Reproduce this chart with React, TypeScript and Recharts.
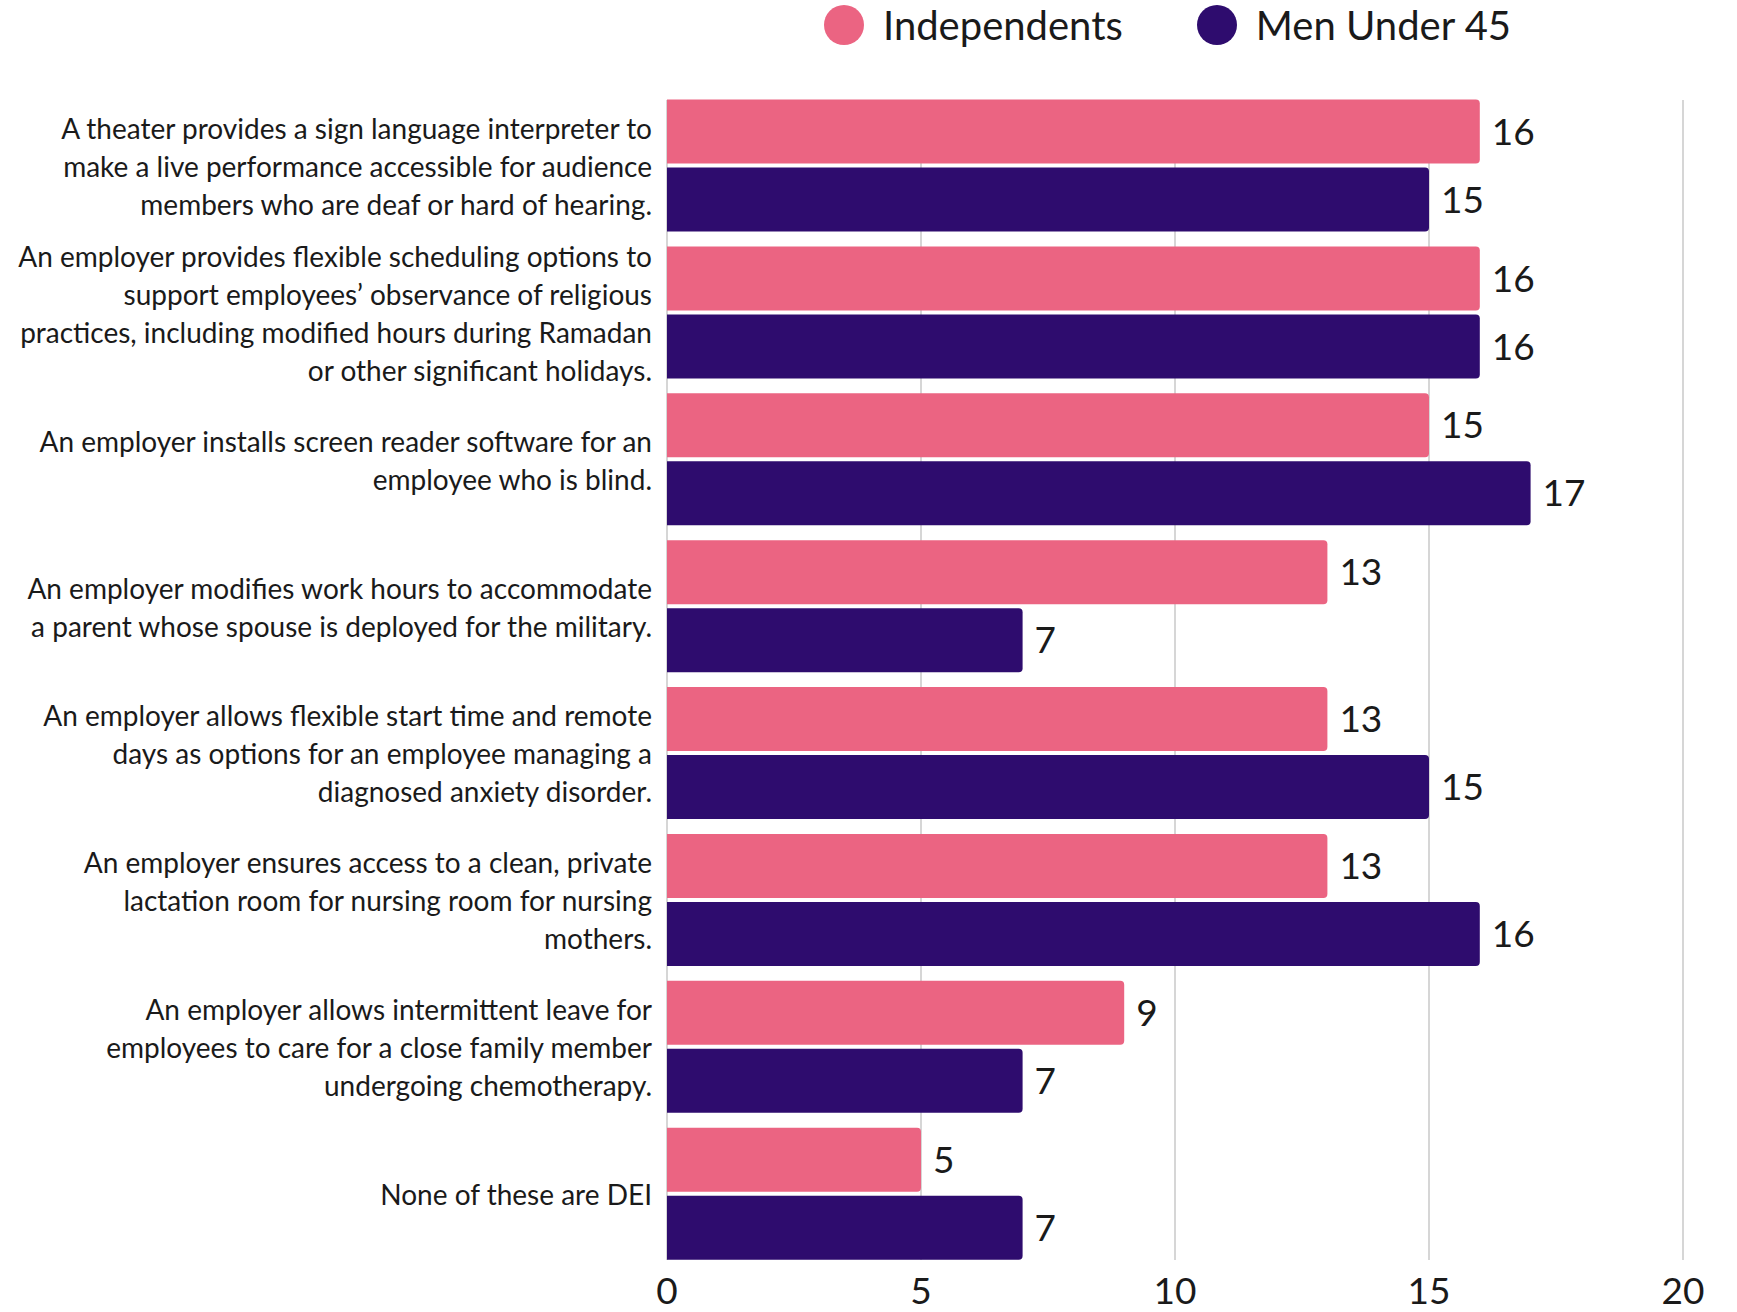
import React from 'react';
import { BarChart, Bar, XAxis, YAxis, CartesianGrid, LabelList } from 'recharts';

const categories = [
  'A theater provides a sign language interpreter to\nmake a live performance accessible for audience\nmembers who are deaf or hard of hearing.',
  'An employer provides flexible scheduling options to\nsupport employees’ observance of religious\npractices, including modified hours during Ramadan\nor other significant holidays.',
  'An employer installs screen reader software for an\nemployee who is blind.',
  'An employer modifies work hours to accommodate\na parent whose spouse is deployed for the military.',
  'An employer allows flexible start time and remote\ndays as options for an employee managing a\ndiagnosed anxiety disorder.',
  'An employer ensures access to a clean, private\nlactation room for nursing room for nursing\nmothers.',
  'An employer allows intermittent leave for\nemployees to care for a close family member\nundergoing chemotherapy.',
  'None of these are DEI',
];
const independents = [16, 16, 15, 13, 13, 13, 9, 5];
const menUnder45 = [15, 16, 17, 7, 15, 16, 7, 7];
const xTicks = [0, 5, 10, 15, 20];
const seriesNames = ['Independents', 'Men Under 45'];
const seriesColors = ['#EB6482', '#2E0C6E'];

const data = categories.map((c, i) => ({
  category: c,
  independents: independents[i],
  men: menUnder45[i],
}));

const FONT = 'Lato, "Open Sans", sans-serif';

const YTick = (props: any) => {
  const { x, y, payload } = props;
  const lines = String(payload.value).split('\n');
  const lh = 38;
  const start = -((lines.length - 1) / 2) * lh;
  return (
    <text x={x - 15} y={y} textAnchor="end" fontFamily={FONT} fontSize={28} fill="#1a1a1a">
      {lines.map((l, i) => (
        <tspan key={i} x={x - 15} y={y + start + i * lh} dominantBaseline="central">
          {l}
        </tspan>
      ))}
    </text>
  );
};

const XTick = (props: any) => {
  const { x, y, payload } = props;
  return (
    <text x={x} y={y + 22} textAnchor="middle" dominantBaseline="central" fontFamily={FONT} fontSize={37} fill="#1a1a1a">
      {payload.value}
    </text>
  );
};

const gridLine = (p: any) => (
  <line
    key={p.key}
    x1={p.x1}
    x2={p.x2}
    y1={p.y1 + 7.5}
    y2={p.y2 - 7.5}
    stroke="#c8c8c8"
    strokeWidth={1.5}
  />
);

const Legend = () => (
  <div
    style={{
      position: 'absolute',
      top: 0,
      left: 824,
      height: 50,
      display: 'flex',
      alignItems: 'center',
      fontFamily: FONT,
      fontSize: 40,
      color: '#1a1a1a',
      whiteSpace: 'nowrap',
    }}
  >
    {seriesNames.map((n, i) => (
      <div key={n} style={{ display: 'flex', alignItems: 'center', marginRight: i === 0 ? 74 : 0 }}>
        <span
          style={{
            display: 'inline-block',
            width: 40,
            height: 40,
            borderRadius: 20,
            background: seriesColors[i],
            marginRight: 19,
          }}
        />
        <span>{n}</span>
      </div>
    ))}
  </div>
);

export default function App() {
  return (
    <div style={{ position: 'absolute', left: 0, top: 0, width: 1737, height: 1312, background: '#fff' }}>
      <Legend />
      <BarChart
        width={1737}
        height={1312}
        data={data}
        layout="vertical"
        margin={{ top: 92.5, right: 54, bottom: 0, left: 0 }}
        barSize={64}
        barGap={4}
      >
        <CartesianGrid horizontal={false} vertical={gridLine} />
        <XAxis
          type="number"
          domain={[0, 20]}
          ticks={xTicks}
          axisLine={false}
          tickLine={false}
          tickSize={0}
          tickMargin={0}
          height={44.5}
          tick={<XTick />}
          interval={0}
        />
        <YAxis
          type="category"
          dataKey="category"
          width={667}
          axisLine={false}
          tickLine={false}
          tickSize={0}
          tickMargin={0}
          tick={<YTick />}
          interval={0}
        />
        <Bar dataKey="independents" name={seriesNames[0]} fill={seriesColors[0]} radius={[0, 4, 4, 0]} isAnimationActive={false}>
          <LabelList dataKey="independents" position="right" offset={12} fontFamily={FONT} fontSize={37} fill="#1a1a1a" />
        </Bar>
        <Bar dataKey="men" name={seriesNames[1]} fill={seriesColors[1]} radius={[0, 4, 4, 0]} isAnimationActive={false}>
          <LabelList dataKey="men" position="right" offset={12} fontFamily={FONT} fontSize={37} fill="#1a1a1a" />
        </Bar>
      </BarChart>
    </div>
  );
}
